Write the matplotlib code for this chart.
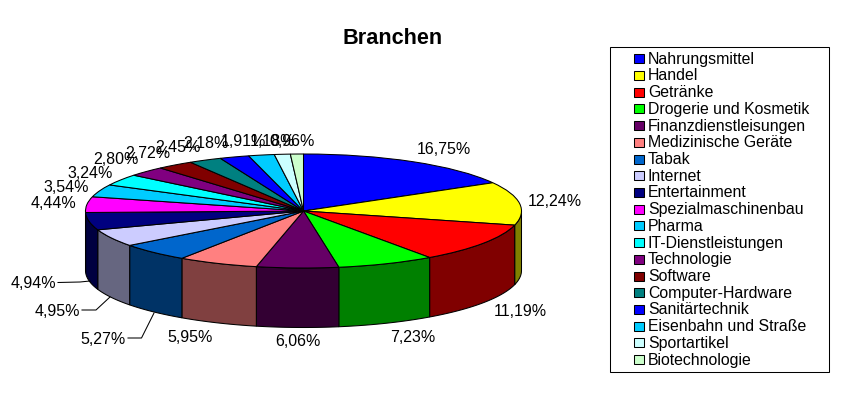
import numpy as np
import matplotlib
matplotlib.use("Agg")
import matplotlib.pyplot as plt
from matplotlib.patches import Polygon, Rectangle

plt.rcParams['font.family'] = ['Liberation Sans', 'DejaVu Sans']

categories = ["Nahrungsmittel", "Handel", "Getränke", "Drogerie und Kosmetik",
              "Finanzdienstleisungen", "Medizinische Geräte", "Tabak", "Internet",
              "Entertainment", "Spezialmaschinenbau", "Pharma", "IT-Dienstleistungen",
              "Technologie", "Software", "Computer-Hardware", "Sanitärtechnik",
              "Eisenbahn und Straße", "Sportartikel", "Biotechnologie"]
values = [16.75, 12.24, 11.19, 7.23, 6.06, 5.95, 5.27, 4.95, 4.94, 4.44,
          3.54, 3.24, 2.80, 2.72, 2.45, 2.18, 1.91, 1.18, 0.96]
colors = ["#0000FF", "#FFFF00", "#FF0000", "#00FF00", "#660066", "#FF8080",
          "#0066CC", "#CCCCFF", "#000080", "#FF00FF", "#00CCFF", "#00FFFF",
          "#800080", "#800000", "#008080", "#0000FF", "#00CCFF", "#CCFFFF", "#CCFFCC"]
title = "Branchen"

W, H = 845, 405
CX, CY, RX, RY, DEPTH = 303.5, 211.0, 218.0, 57.0, 59.5

fig = plt.figure(figsize=(W / 100, H / 100), dpi=100, facecolor="white")
ax = fig.add_axes([0, 0, 1, 1])


def darker(c):
    r, g, b = matplotlib.colors.to_rgb(c)
    return (r / 2, g / 2, b / 2)


wedges, _ = ax.pie(values, colors=colors, startangle=90, counterclock=False,
                   radius=1.0, center=(0, 0), normalize=True,
                   wedgeprops=dict(edgecolor="black", linewidth=0.75, zorder=5))
ax.set_aspect("auto")
# one pie unit is RX px across and RY px down; limits give pixel-like placement
ax.set_xlim(-CX / RX, (W - CX) / RX)
ax.set_ylim(-(H - CY) / RY, CY / RY)
ax.axis("off")

d = DEPTH / RY
frac = np.cumsum([0] + values) / sum(values)
for i, col in enumerate(colors):
    a0, a1 = frac[i] * 2 * np.pi, frac[i + 1] * 2 * np.pi
    a0c, a1c = max(a0, np.pi / 2), min(a1, 3 * np.pi / 2)
    if a1c <= a0c:
        continue
    t = np.linspace(a0c, a1c, 60)
    x, y = np.sin(t), np.cos(t)
    pts = np.r_[np.c_[x, y], np.c_[x[::-1], y[::-1] - d]]
    ax.add_patch(Polygon(pts, closed=True, facecolor=darker(col), edgecolor="black",
                         linewidth=0.75, zorder=3))


def px(x, y):
    return (x - CX) / RX, (CY - y) / RY


label_pos = [(444, 149), (555, 201.5), (520, 312), (413, 338), (298, 341), (190, 338),
             (103, 339), (57, 311), (33, 283), (54, 204), (66, 187), (90, 173),
             (116, 159), (148, 153), (178, 147), (206, 144), (243, 142), (273, 142),
             (292, 142)]
for v, (lx, ly) in zip(values, label_pos):
    tx, ty = px(lx, ly)
    ax.text(tx, ty, f"{v:.2f}%".replace(".", ","), fontsize=11.5, ha="center",
            va="center", color="black", zorder=8)

leaders = [[(58, 282.5), (80, 282), (90, 281)], [(82, 310), (96, 310), (110, 297)],
           [(128, 338), (141.5, 338), (154, 313)]]
for seg in leaders:
    p = np.array([px(*q) for q in seg])
    ax.plot(p[:, 0], p[:, 1], color="black", lw=0.75, zorder=8)

ax.text(*px(393, 38.5), title, fontsize=15.6, fontweight="bold", ha="center",
        va="center", zorder=8)

# legend box
lx0, ly0 = px(610.5, 371.5)
lx1, ly1 = px(829.5, 47.5)
ax.add_patch(Rectangle((lx0, ly0), lx1 - lx0, ly1 - ly0, facecolor="white",
                       edgecolor="black", linewidth=0.75, zorder=6))
for i, (name, col) in enumerate(zip(categories, colors)):
    y = 58.7 + i * 16.72
    x0, y0 = px(634.5, y + 4.5)
    x1, y1 = px(644.5, y - 4.5)
    ax.add_patch(Rectangle((x0, y0), x1 - x0, y1 - y0, facecolor=col, edgecolor="black",
                           linewidth=0.75, zorder=7))
    ax.text(*px(648, y + 5), name, fontsize=11.4, ha="left", va="baseline", zorder=8)

fig.savefig("out.png", dpi=100, facecolor="white")
